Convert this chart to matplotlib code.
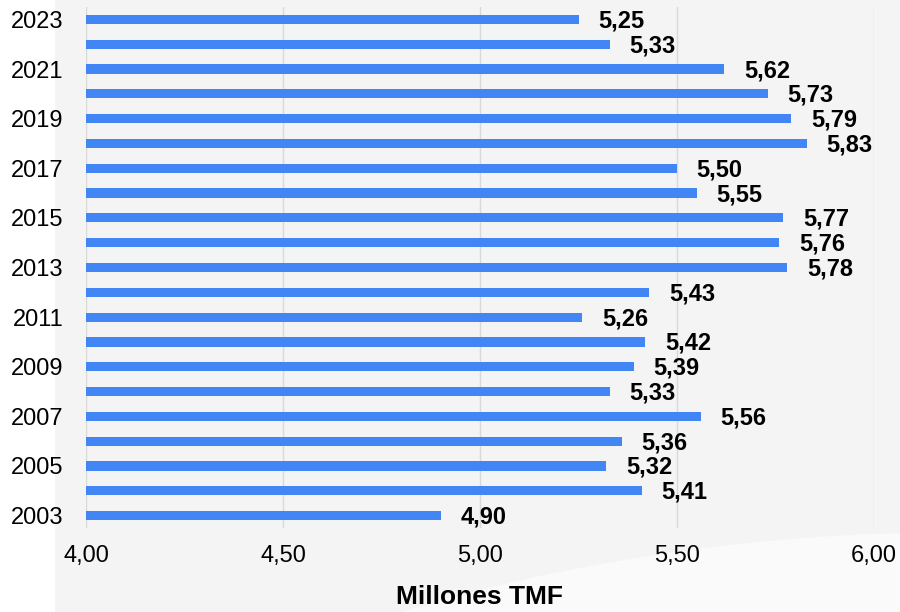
import matplotlib
matplotlib.use("Agg")
import matplotlib.pyplot as plt
from matplotlib.patches import Ellipse

years = list(range(2023, 2002, -1))
values = [5.25, 5.33, 5.62, 5.73, 5.79, 5.83, 5.50, 5.55, 5.77, 5.76, 5.78,
          5.43, 5.26, 5.42, 5.39, 5.33, 5.56, 5.36, 5.32, 5.41, 4.90]
xticks = [4.0, 4.5, 5.0, 5.5, 6.0]
xlabel = "Millones TMF"

plt.rcParams['font.family'] = ['Liberation Sans', 'DejaVu Sans']

fig = plt.figure(figsize=(9, 6.12), dpi=100)
fig.patch.set_facecolor('white')
# faint watermark background
bg = fig.add_axes([0, 0, 1, 1], zorder=-5)
bg.set_xlim(0, 900); bg.set_ylim(612, 0); bg.axis('off')
bg.add_patch(plt.Rectangle((55, 0), 845, 612, color='#f4f4f4', lw=0))
bg.add_patch(Ellipse((700, 700), 1100, 300, angle=-8, color='#fafafa', lw=0))

ax = fig.add_axes([86/900, 1 - 528/612, 788/900, 521/612])
ax.patch.set_alpha(0)
pos = list(range(len(years)))
ax.barh(pos, [v - 4.0 for v in values], left=4.0, height=0.37, color='#4285F4', zorder=3)
for p, v in zip(pos, values):
    ax.text(v + 0.05, p + 0.06, f"{v:.2f}".replace('.', ','), va='center', ha='left',
            fontsize=17, fontweight='bold', color='black', zorder=4)

ax.set_xlim(4.0, 6.0)
ax.set_ylim(len(years) - 0.5, -0.5)
ax.set_xticks(xticks)
ax.set_xticklabels([f"{t:.2f}".replace('.', ',') for t in xticks], fontsize=17)
ax.set_yticks(pos)
ax.set_yticklabels([str(y) if (y % 2 == 1) else '' for y in years], fontsize=17)
ax.tick_params(axis='both', length=0)
ax.tick_params(axis='x', pad=12)
ax.tick_params(axis='y', pad=16)
ax.grid(axis='x', color='#d9d9d9', lw=1, zorder=0)
for s in ax.spines.values():
    s.set_visible(False)
ax.set_xlabel(xlabel, fontsize=19, fontweight='bold', labelpad=13)

fig.savefig('out.png', dpi=100)
